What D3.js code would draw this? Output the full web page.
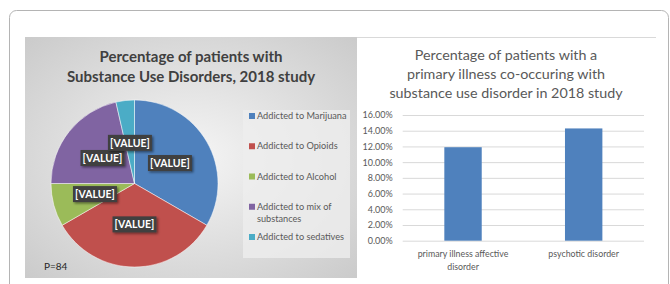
<!DOCTYPE html>
<html>
<head>
<meta charset="utf-8">
<script src="https://cdn.jsdelivr.net/npm/d3@7"></script>
<style>
  body{margin:0;background:#fff}
  text{font-family:Lato,"Open Sans",sans-serif}
</style>
</head>
<body>
<div id="chart"></div>
<script>
//data of the pie chart (P=84 patients)
let pieLabels=["Addicted to Marijuana","Addicted to Opioids","Addicted to Alcohol","Addicted to mix of substances","Addicted to sedatives"]
let pieLegendLines=[["Addicted to Marijuana"],["Addicted to Opioids"],["Addicted to Alcohol"],["Addicted to mix of","substances"],["Addicted to sedatives"]]
let pieValues=[28,28,7,18,3]
let pieColors=["#4f81bd","#c0504d","#9bbb59","#8064a2","#4bacc6"]

//data of the bar chart
let barCategories=[["primary illness affective","disorder"],["psychotic disorder"]]
let barValues=[0.119,0.1429]
let barTicks=[0,0.02,0.04,0.06,0.08,0.10,0.12,0.14,0.16]

let width=670
let height=284

const svg=d3.select("#chart").append("svg").attr("width",width).attr("height",height)
const defs=svg.append("defs")

//gradient of the left panel, light center and darker borders
let grad=defs.append("radialGradient").attr("id","panelGrad").attr("cx","50%").attr("cy","50%").attr("r","70%")
grad.append("stop").attr("offset","0%").attr("stop-color","#f5f5f5")
grad.append("stop").attr("offset","100%").attr("stop-color","#cbcbcb")

let shadow=defs.append("filter").attr("id","shadow").attr("x","-20%").attr("y","-30%").attr("width","150%").attr("height","180%")
shadow.append("feDropShadow").attr("dx",1.5).attr("dy",1.5).attr("stdDeviation",1).attr("flood-color","#000").attr("flood-opacity",0.45)

//card border
svg.append("rect").attr("x",9.5).attr("y",10.5).attr("width",659).attr("height",300).attr("rx",7)
   .attr("fill","none").attr("stroke","#b4b4b4").attr("stroke-width",1)

// ---------- left panel: pie chart ----------
svg.append("rect").attr("x",25).attr("y",37).attr("width",332).attr("height",241).attr("fill","url(#panelGrad)")
svg.append("text").attr("x",191).attr("y",62).attr("text-anchor","middle").attr("font-size",15).attr("font-weight","bold")
   .attr("fill","#404040").text("Percentage of patients with")
svg.append("text").attr("x",191).attr("y",82).attr("text-anchor","middle").attr("font-size",15).attr("font-weight","bold")
   .attr("fill","#404040").text("Substance Use Disorders, 2018 study")

let cx=134.5, cy=183.5, radius=83.5
let pie=d3.pie().sort(null).value(d=>d)
let arc=d3.arc().innerRadius(0).outerRadius(radius)
let labelArc=d3.arc().innerRadius(radius*0.49).outerRadius(radius*0.49)
let pieG=svg.append("g").attr("transform",`translate(${cx},${cy})`)
let slices=pie(pieValues)
pieG.selectAll("path").data(slices).enter().append("path")
    .attr("d",arc).attr("fill",(d,i)=>pieColors[i]).attr("stroke","#fff").attr("stroke-width",0.5)

//the data labels are the "[VALUE]" placeholders of the original
let labelG=pieG.selectAll("g.lbl").data(slices).enter().append("g").attr("class","lbl")
    .attr("transform",d=>`translate(${labelArc.centroid(d)})`)
labelG.append("rect").attr("x",-22).attr("y",-8).attr("width",44).attr("height",16)
    .attr("fill","#404040").attr("filter","url(#shadow)")
labelG.append("text").attr("text-anchor","middle").attr("dy","0.36em").attr("font-size",10.5).attr("font-weight","bold")
    .attr("fill","#fff").text("[VALUE]")

//legend
svg.append("rect").attr("x",243).attr("y",110).attr("width",107).attr("height",148).attr("fill","#ededed").attr("opacity",0.8)
let legendY=d3.scaleLinear().domain([0,4]).range([116,237])
let legend=svg.append("g").attr("id","legend")
pieLabels.forEach((label,i)=>{
    let y=legendY(i)
    legend.append("rect").attr("x",249).attr("y",y-3).attr("width",6).attr("height",6).attr("fill",pieColors[i])
    pieLegendLines[i].forEach((line,j)=>{
        legend.append("text").attr("x",257).attr("y",y+j*12).attr("dy","0.35em").attr("font-size",9.2)
              .attr("fill","#595959").text(line)
    })
})
svg.append("text").attr("x",44).attr("y",266).attr("dy","0.35em").attr("font-size",10).attr("fill","#262626").text("P=84")

// ---------- right panel: bar chart ----------
svg.append("line").attr("x1",357).attr("x2",656).attr("y1",37.5).attr("y2",37.5).attr("stroke","#d9d9d9")
let titleLines=["Percentage of patients with a","primary illness co-occuring with","substance use disorder in 2018 study"]
titleLines.forEach((t,i)=>{
    svg.append("text").attr("x",506).attr("y",55+i*19).attr("dy","0.35em").attr("text-anchor","middle")
       .attr("font-size",14.3).attr("fill","#595959").text(t)
})

let yScale=d3.scaleLinear().domain([0,0.16]).range([240.7,115])
let xScale=d3.scaleBand().domain(d3.range(barValues.length)).range([402.7,644]).paddingInner(0.69).paddingOuter(0.345)

//horizontal gridlines and tick labels
let yAxis=d3.axisLeft(yScale).tickValues(barTicks).tickFormat(d3.format(".2%")).tickSize(-(644-402.7)).tickPadding(10)
let yG=svg.append("g").attr("transform","translate(402.7,0)").call(yAxis)
yG.select(".domain").remove()
yG.selectAll("line").attr("stroke","#d9d9d9")
yG.selectAll("text").attr("font-size",9).attr("fill","#595959").attr("font-family","Lato,'Open Sans',sans-serif")

svg.selectAll("rect.bar").data(barValues).enter().append("rect").attr("class","bar")
   .attr("x",(d,i)=>xScale(i)).attr("width",xScale.bandwidth())
   .attr("y",d=>yScale(d)).attr("height",d=>yScale(0)-yScale(d)).attr("fill","#4f81bd")

barCategories.forEach((lines,i)=>{
    lines.forEach((line,j)=>{
        svg.append("text").attr("x",xScale(i)+xScale.bandwidth()/2).attr("y",254+j*13).attr("dy","0.35em")
           .attr("text-anchor","middle").attr("font-size",8.8).attr("fill","#595959").text(line)
    })
})
</script>
</body>
</html>
